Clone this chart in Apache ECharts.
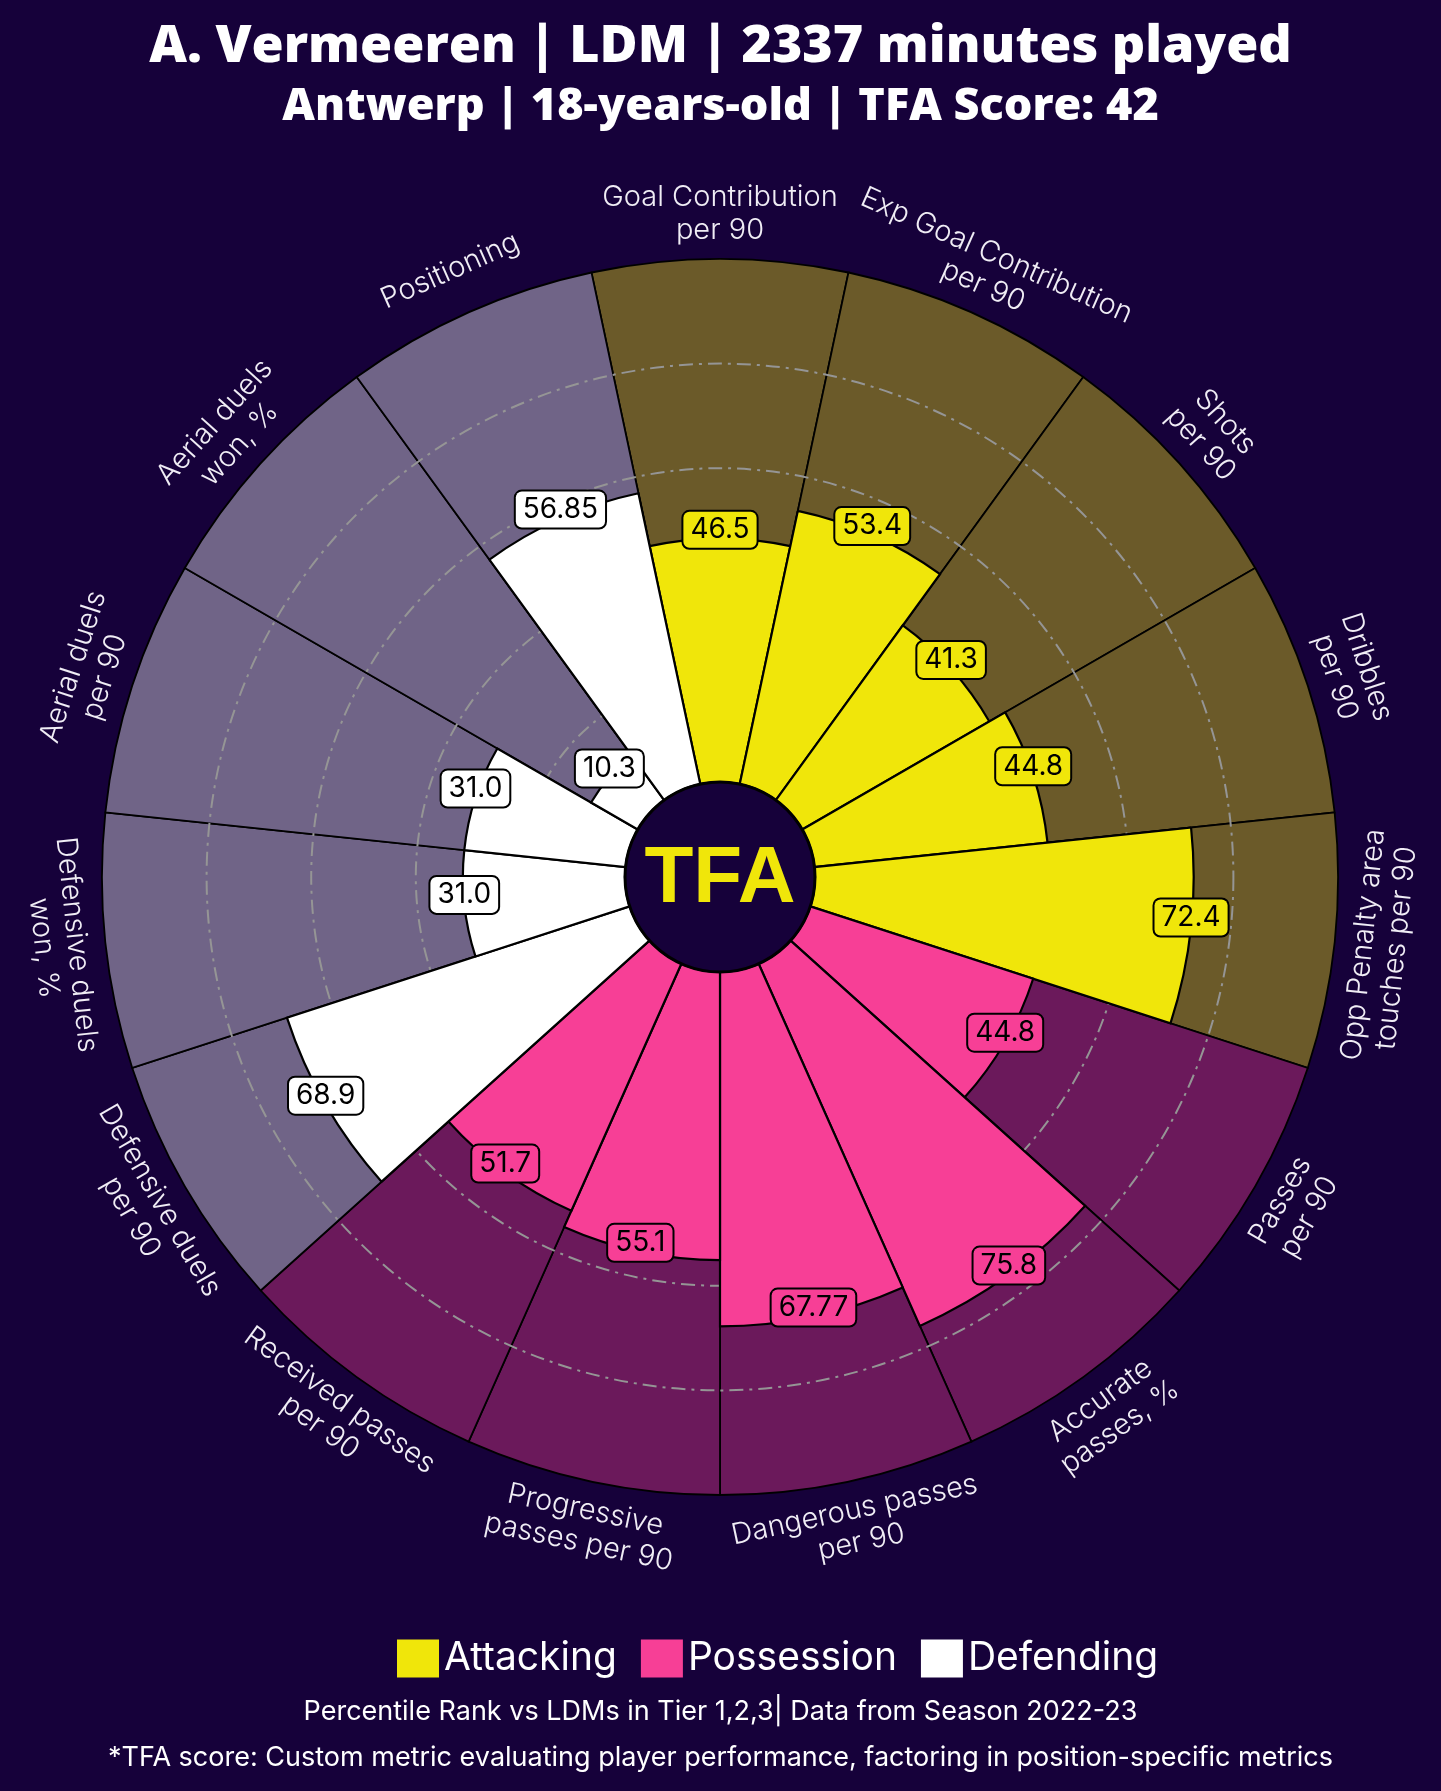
<!DOCTYPE html>
<html>
<head>
<meta charset="utf-8">
<script src="https://cdn.jsdelivr.net/npm/echarts@6/dist/echarts.min.js"></script>
<style>
  html, body { margin: 0; padding: 0; background: #16013a; }
  #chart { width: 1441px; height: 1791px; }
</style>
</head>
<body>
<div id="chart"></div>
<script>
// ---- data ----
const categories = [
  "Goal Contribution\nper 90",
  "Exp Goal Contribution\nper 90",
  "Shots\nper 90",
  "Dribbles\nper 90",
  "Opp Penalty area\ntouches per 90",
  "Passes\nper 90",
  "Accurate\npasses, %",
  "Dangerous passes\nper 90",
  "Progressive\npasses per 90",
  "Received passes\nper 90",
  "Defensive duels\nper 90",
  "Defensive duels\nwon, %",
  "Aerial duels\nper 90",
  "Aerial duels\nwon, %",
  "Positioning"
];
const values = [46.5, 53.4, 41.3, 44.8, 72.4, 44.8, 75.8, 67.77, 55.1, 51.7, 68.9, 31.0, 31.0, 10.3, 56.85];
const valueText = ["46.5", "53.4", "41.3", "44.8", "72.4", "44.8", "75.8", "67.77", "55.1", "51.7", "68.9", "31.0", "31.0", "10.3", "56.85"];
const groupOf = ["Attacking","Attacking","Attacking","Attacking","Attacking",
                 "Possession","Possession","Possession","Possession","Possession",
                 "Defending","Defending","Defending","Defending","Defending"];
const groups = ["Attacking", "Possession", "Defending"];
const maxValue = 100;

// ---- styles ----
const BG = "#16013a";
const fgColor = { Attacking: "#f0e60a", Possession: "#f73f96", Defending: "#ffffff" };
const bgColor = { Attacking: "#6b5a29", Possession: "#6b195b", Defending: "#706487" };
const FONT = "Inter, 'Noto Sans', sans-serif";

const n = categories.length;
const step = 360 / n;

function labelRotate(i) {
  const theta = i * step; // clockwise from top
  let r;
  if (theta <= 90 || theta >= 270) r = -theta; else r = 180 - theta;
  while (r > 180) r -= 360;
  while (r < -180) r += 360;
  return r;
}

const series = [];
// background slices
series.push({
  type: 'bar', coordinateSystem: 'polar', name: 'bg',
  data: categories.map((c, i) => ({ value: maxValue, itemStyle: { color: bgColor[groupOf[i]] } })),
  barGap: '-100%', barCategoryGap: '0%',
  itemStyle: { borderColor: '#000', borderWidth: 1.8 },
  silent: true, z: 1
});
// foreground slices per group
groups.forEach(g => {
  series.push({
    type: 'bar', coordinateSystem: 'polar', name: g,
    data: values.map((v, i) => groupOf[i] === g ? v : null),
    barGap: '-100%', barCategoryGap: '0%',
    itemStyle: { color: fgColor[g], borderColor: '#000', borderWidth: 2.2 },
    z: 3
  });
});
// value labels
series.push({
  type: 'scatter', coordinateSystem: 'polar', name: 'values',
  clip: false, symbolSize: 0, z: 5, silent: true,
  itemStyle: { opacity: 1 },
  data: values.map((v, i) => ({
    value: [v, i],
    label: {
      show: true,
      formatter: valueText[i],
      backgroundColor: fgColor[groupOf[i]],
      borderColor: '#000', borderWidth: 2, borderRadius: 6,
      padding: [5, 7, 3, 7],
      color: '#000', fontFamily: FONT, fontSize: 28, opacity: 1,
      position: 'inside', offset: [0, -9]
    }
  }))
});
// category labels
series.push({
  type: 'scatter', coordinateSystem: 'polar', name: 'cats',
  clip: false, symbolSize: 0, z: 5, silent: true,
  itemStyle: { opacity: 1 },
  data: categories.map((c, i) => ({
    value: [108.7, i],
    label: {
      show: true, formatter: c, rotate: labelRotate(i), opacity: 1,
      color: '#f0edf5', fontFamily: FONT, fontWeight: 300, fontSize: 29, lineHeight: 33,
      align: 'center', verticalAlign: 'middle', position: 'inside'
    }
  }))
});

const chart = echarts.init(document.getElementById('chart'), null, { renderer: 'canvas' });
chart.setOption({
  backgroundColor: BG,
  animation: false,
  title: [
    { text: 'A. Vermeeren | LDM | 2337 minutes played', left: 'center', top: 16,
      textStyle: { color: '#fff', fontFamily: "'Open Sans', sans-serif", fontWeight: 800, fontSize: 52 } },
    { text: 'Antwerp | 18-years-old | TFA Score: 42', left: 'center', top: 80,
      textStyle: { color: '#fff', fontFamily: "'Open Sans', sans-serif", fontWeight: 800, fontSize: 45 } },
    { text: 'Percentile Rank vs LDMs in Tier 1,2,3| Data from Season 2022-23', left: 'center', top: 1693,
      textStyle: { color: '#fff', fontFamily: FONT, fontWeight: 400, fontSize: 27 } },
    { text: '*TFA score: Custom metric evaluating player performance, factoring in position-specific metrics', left: 'center', top: 1739,
      textStyle: { color: '#fff', fontFamily: FONT, fontWeight: 400, fontSize: 27 } }
  ],
  legend: {
    data: groups, left: 392, top: 1634, icon: 'rect',
    itemWidth: 42, itemHeight: 38, itemGap: 24,
    itemStyle: { borderWidth: 0 },
    textStyle: { color: '#fff', fontFamily: FONT, fontSize: 39, padding: [0, 0, 0, 0] }
  },
  polar: { center: [720, 877], radius: [95, 618] },
  angleAxis: {
    type: 'category', data: categories, startAngle: 90 + step / 2, clockwise: true,
    axisLine: { show: false }, axisTick: { show: false }, axisLabel: { show: false },
    splitLine: { show: false }
  },
  radiusAxis: {
    type: 'value', min: 0, max: maxValue, interval: 20, z: 2,
    axisLine: { show: false }, axisTick: { show: false }, axisLabel: { show: false },
    splitLine: { show: true, lineStyle: {
      color: ['rgba(0,0,0,0)', '#959595', '#959595', '#959595', '#959595', 'rgba(0,0,0,0)'],
      width: 2, type: [14, 6, 3, 6] } }
  },
  graphic: [
    { type: 'circle', shape: { cx: 720, cy: 877, r: 95 }, style: { fill: BG, stroke: '#000', lineWidth: 3 }, z: 10 },
    { type: 'text', x: 720, y: 880, z: 11,
      style: { text: 'TFA', fill: '#f0e60a', font: "900 80px 'Liberation Sans', Arial, sans-serif", textAlign: 'center', textVerticalAlign: 'middle' } }
  ],
  series: series
});
</script>
</body>
</html>
